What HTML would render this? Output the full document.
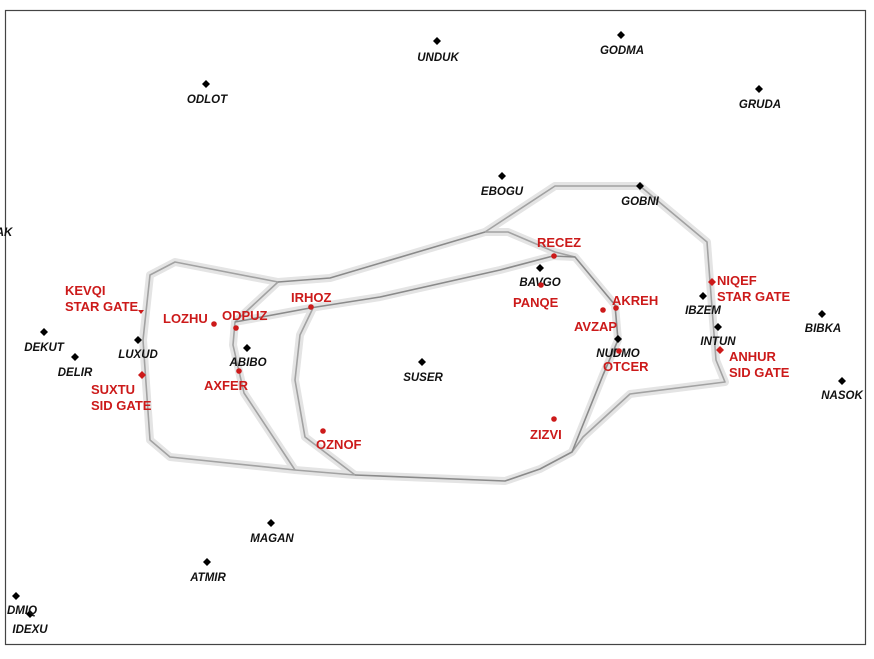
<!DOCTYPE html>
<html><head><meta charset="utf-8"><style>
html,body{margin:0;padding:0;background:#fff;width:874px;height:659px;overflow:hidden}
svg{display:block}
.b{font:italic bold 11.5px "Liberation Sans",sans-serif;fill:#111}
.r{font:bold 13px "Liberation Sans",sans-serif;fill:#cc1a1a}
.band{fill:none;stroke:#e4e4e4;stroke-width:8;stroke-linejoin:round}
.ln{fill:none;stroke:#a2a2a2;stroke-width:1.6;stroke-linejoin:round}
.dk{fill:none;stroke:#8a8a8a;stroke-width:1.6;stroke-linejoin:round}
</style></head><body>
<svg width="874" height="659" viewBox="0 0 874 659" xmlns="http://www.w3.org/2000/svg">
<rect x="5.5" y="10.5" width="860" height="634" fill="#fff" stroke="#444" stroke-width="1.2"/>
<g class="band">
<polyline points="278,282 175,262 150,275 143,340 150,440 170,457 295,470 355,475 505,481 540,469 572,452 603,375 618,340 615,305 575,257 553,256 500,270 380,297 310,308 235,322"/>
<polyline points="278,282 235,322 233,345 244,393 295,470"/>
<polyline points="313,308 300,335 295,380 305,437 355,475"/>
<polyline points="278,282 330,278 485,232 508,232 555,252 575,257"/>
<polyline points="485,232 555,186 640,186 707,242 716,360 725,382 630,394 583,437 572,452"/>
</g>
<g class="ln">
<polyline points="278,282 175,262 150,275 143,340 150,440 170,457 295,470 355,475"/>
<polyline points="278,282 235,322 233,345 244,393 295,470"/>
<polyline points="313,308 300,335 295,380 305,437 355,475"/>
<polyline points="485,232 555,186 640,186 707,242 716,360 725,382 630,394 583,437 572,452"/>
<polyline points="485,232 508,232 555,252 575,257"/>
</g>
<g class="dk">
<polyline points="355,475 505,481 540,469 572,452 603,375 618,340 615,305 575,257 553,256 500,270 380,297 310,308 235,322"/>
<polyline points="278,282 330,278 485,232"/>
</g>
<g fill="#000">
<path d="M437,37l4,4l-4,4l-4,-4z"/><path d="M621,31l4,4l-4,4l-4,-4z"/><path d="M206,80l4,4l-4,4l-4,-4z"/>
<path d="M759,85l4,4l-4,4l-4,-4z"/><path d="M502,172l4,4l-4,4l-4,-4z"/><path d="M640,182l4,4l-4,4l-4,-4z"/>
<path d="M44,328l4,4l-4,4l-4,-4z"/><path d="M75,353l4,4l-4,4l-4,-4z"/><path d="M138,336l4,4l-4,4l-4,-4z"/>
<path d="M247,344l4,4l-4,4l-4,-4z"/><path d="M422,358l4,4l-4,4l-4,-4z"/><path d="M540,264l4,4l-4,4l-4,-4z"/>
<path d="M703,292l4,4l-4,4l-4,-4z"/><path d="M718,323l4,4l-4,4l-4,-4z"/><path d="M618,335l4,4l-4,4l-4,-4z"/>
<path d="M822,310l4,4l-4,4l-4,-4z"/><path d="M842,377l4,4l-4,4l-4,-4z"/><path d="M271,519l4,4l-4,4l-4,-4z"/>
<path d="M207,558l4,4l-4,4l-4,-4z"/><path d="M16,592l4,4l-4,4l-4,-4z"/><path d="M30,610l4,4l-4,4l-4,-4z"/>
</g>
<g class="b" text-anchor="middle">
<text x="438" y="61">UNDUK</text><text x="622" y="54">GODMA</text><text x="207" y="103">ODLOT</text>
<text x="760" y="108">GRUDA</text><text x="502" y="195">EBOGU</text><text x="640" y="205">GOBNI</text>
<text x="44" y="351">DEKUT</text><text x="75" y="376">DELIR</text><text x="138" y="358">LUXUD</text>
<text x="248" y="366">ABIBO</text><text x="423" y="381">SUSER</text><text x="540" y="286">BAVGO</text>
<text x="703" y="314">IBZEM</text><text x="718" y="345">INTUN</text><text x="618" y="357">NUDMO</text>
<text x="823" y="332">BIBKA</text><text x="842" y="399">NASOK</text><text x="272" y="542">MAGAN</text>
<text x="208" y="581">ATMIR</text><text x="22" y="614">DMIQ</text><text x="30" y="633">IDEXU</text>
<text x="4" y="236">AK</text>
</g>
<g fill="#cc1a1a">
<circle cx="214" cy="324" r="2.8"/><circle cx="236" cy="328" r="2.8"/><circle cx="311" cy="307" r="2.8"/>
<circle cx="239" cy="371" r="2.8"/><circle cx="323" cy="431" r="2.8"/><circle cx="554" cy="256" r="2.8"/>
<circle cx="541" cy="285" r="2.8"/><circle cx="616" cy="308" r="2.8"/><circle cx="603" cy="310" r="2.8"/>
<circle cx="619" cy="351" r="2.8"/><circle cx="554" cy="419" r="2.8"/>
<path d="M142,371l4,4l-4,4l-4,-4z"/><path d="M712,278l4,4l-4,4l-4,-4z"/><path d="M720,346l4,4l-4,4l-4,-4z"/>
<path d="M138,310l6,0l-3,4z"/>
</g>
<g class="r">
<text x="65" y="295">KEVQI</text><text x="65" y="311">STAR GATE</text>
<text x="163" y="323">LOZHU</text><text x="222" y="320">ODPUZ</text><text x="291" y="302">IRHOZ</text>
<text x="91" y="394">SUXTU</text><text x="91" y="410">SID GATE</text>
<text x="204" y="390">AXFER</text><text x="316" y="449">OZNOF</text>
<text x="537" y="247">RECEZ</text><text x="513" y="307">PANQE</text><text x="612" y="305">AKREH</text>
<text x="574" y="331">AVZAP</text><text x="603" y="371">OTCER</text><text x="530" y="439">ZIZVI</text>
<text x="717" y="285">NIQEF</text><text x="717" y="301">STAR GATE</text>
<text x="729" y="361">ANHUR</text><text x="729" y="377">SID GATE</text>
</g>
</svg>
</body></html>
